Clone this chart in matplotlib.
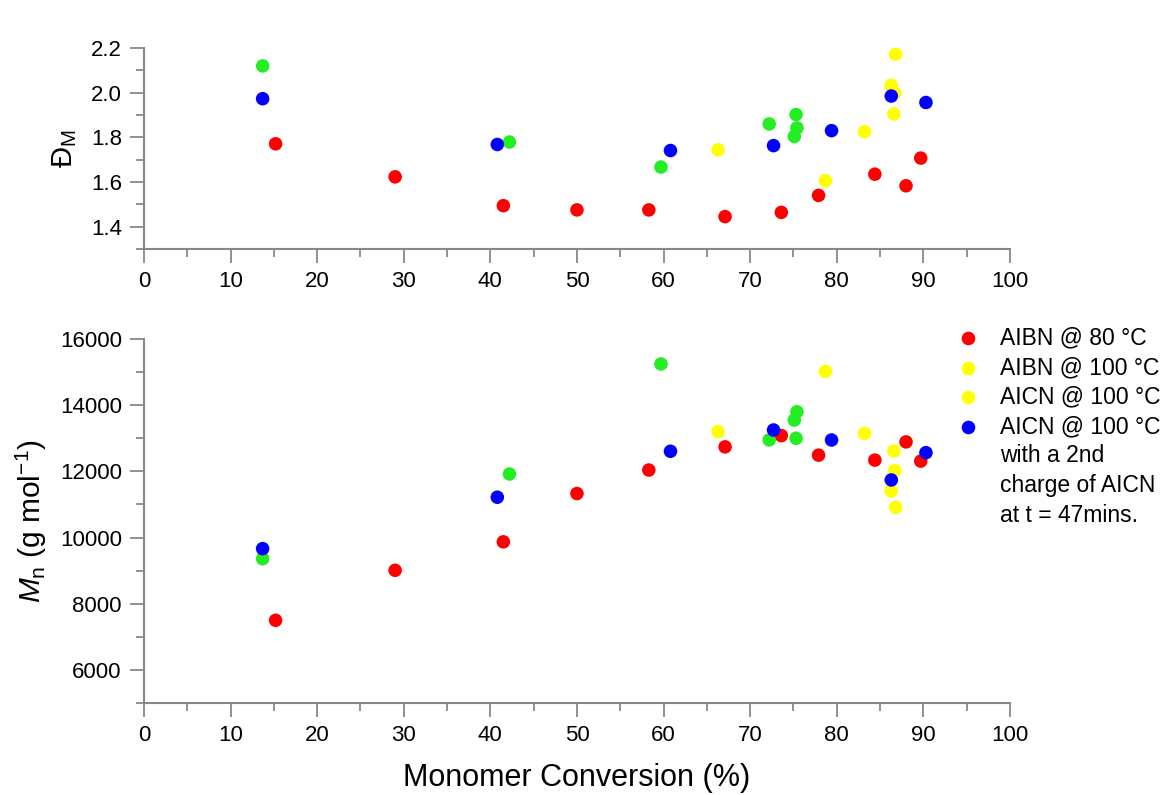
import matplotlib
matplotlib.use("Agg")
import matplotlib.pyplot as plt
from matplotlib.ticker import MultipleLocator

plt.rcParams['font.family'] = ['Liberation Sans', 'DejaVu Sans']
plt.rcParams['mathtext.fontset'] = 'custom'
plt.rcParams['mathtext.rm'] = 'Liberation Sans'
plt.rcParams['mathtext.it'] = 'Liberation Sans:italic'

# Monomer conversion (%) for each series
conv_aibn80 = [15.2, 29.0, 41.5, 50.0, 58.3, 67.1, 73.6, 77.9, 84.4, 88.0, 89.7]
conv_aibn100 = [66.3, 78.7, 83.2, 86.8, 86.3, 86.7, 86.6]
conv_green = [13.7, 42.2, 59.7, 72.2, 75.3, 75.4, 75.1]
conv_aicn2 = [13.7, 40.8, 60.8, 72.7, 79.4, 86.3, 90.3]

# Dispersity
disp_aibn80 = [1.771, 1.623, 1.494, 1.475, 1.475, 1.445, 1.464, 1.540, 1.635, 1.583, 1.707]
disp_aibn100 = [1.744, 1.606, 1.825, 2.172, 2.033, 1.998, 1.905]
disp_green = [2.12, 1.779, 1.667, 1.860, 1.902, 1.842, 1.804]
disp_aicn2 = [1.973, 1.768, 1.741, 1.763, 1.830, 1.985, 1.956]

# Number-average molar mass (g/mol)
mn_aibn80 = [7500, 9010, 9870, 11330, 12040, 12740, 13080, 12490, 12340, 12890, 12310]
mn_aibn100 = [13200, 15020, 13150, 10915, 11407, 12021, 12616]
mn_green = [9360, 11920, 15245, 12950, 13000, 13800, 13550]
mn_aicn2 = [9665, 11218, 12607, 13250, 12948, 11740, 12565]

legend_labels = ["AIBN @ 80 \u00b0C", "AIBN @ 100 \u00b0C", "AICN @ 100 \u00b0C",
                 "AICN @ 100 \u00b0C\nwith a 2nd\ncharge of AICN\nat t = 47mins."]

RED, YEL, GRN, BLU = '#ff0000', '#ffff00', '#22ee22', '#0000ff'
AXC = '#888888'
MS = 95

fig = plt.figure(figsize=(11.65, 7.95), dpi=100)
ax1 = fig.add_axes([0.1236, 0.6868, 0.7433, 0.2528])
ax2 = fig.add_axes([0.1236, 0.1157, 0.7433, 0.4579])


def style(ax):
    for s in ('top', 'right'):
        ax.spines[s].set_visible(False)
    for s in ('left', 'bottom'):
        ax.spines[s].set_color(AXC)
        ax.spines[s].set_linewidth(1.5)
    ax.tick_params(which='major', length=10, width=1.3, color=AXC, labelsize=16, pad=6)
    ax.tick_params(which='minor', length=6, width=1.3, color=AXC)
    ax.set_xlim(0, 100)
    ax.xaxis.set_major_locator(MultipleLocator(10))
    ax.xaxis.set_minor_locator(MultipleLocator(5))


for ax, ys in ((ax1, (disp_aibn80, disp_aibn100, disp_green, disp_aicn2)),
               (ax2, (mn_aibn80, mn_aibn100, mn_green, mn_aicn2))):
    style(ax)
    ax.scatter(conv_aibn80, ys[0], s=MS, color=RED, edgecolors='none', zorder=3)
    ax.scatter(conv_aibn100, ys[1], s=MS, color=YEL, edgecolors='none', zorder=3)
    ax.scatter(conv_green, ys[2], s=MS, color=GRN, edgecolors='none', zorder=3)
    ax.scatter(conv_aicn2, ys[3], s=MS, color=BLU, edgecolors='none', zorder=3)

ax1.set_ylim(1.3, 2.2)
ax1.set_yticks([1.4, 1.6, 1.8, 2.0, 2.2])
ax1.yaxis.set_minor_locator(MultipleLocator(0.1))
ax1.set_ylabel('\u0110$_\\mathrm{M}$', fontsize=21)
ax1.yaxis.set_label_coords(-0.075, 0.5)

ax2.set_ylim(5000, 16000)
ax2.set_yticks([6000, 8000, 10000, 12000, 14000, 16000])
ax2.yaxis.set_minor_locator(MultipleLocator(1000))
ax2.set_ylabel('$\\mathit{M}_\\mathrm{n}$ (g mol$^{-1}$)', fontsize=21.5)
ax2.yaxis.set_label_coords(-0.11, 0.5)
ax2.set_xlabel('Monomer Conversion (%)', fontsize=22, labelpad=12)

# legend drawn at the right of the lower panel
leg_colors = [RED, YEL, YEL, BLU]
row_h = 29.5 / 795
y0 = 1 - 338 / 795
xm = 968 / 1165
xt = 1000 / 1165
lines = []
for i, (c, lab) in enumerate(zip(leg_colors, legend_labels)):
    yy = y0 - len(lines) * row_h
    fig.add_artist(plt.Line2D([xm], [yy], marker='o', markersize=9.8, color=c,
                              markeredgecolor='none', linestyle='none',
                              transform=fig.transFigure))
    lines.extend(lab.split('\n'))

for j, line in enumerate(lines):
    fig.text(xt, y0 - j * row_h, line, fontsize=16.5, va='center', ha='left')

fig.savefig('out.png', dpi=100, facecolor='white')
